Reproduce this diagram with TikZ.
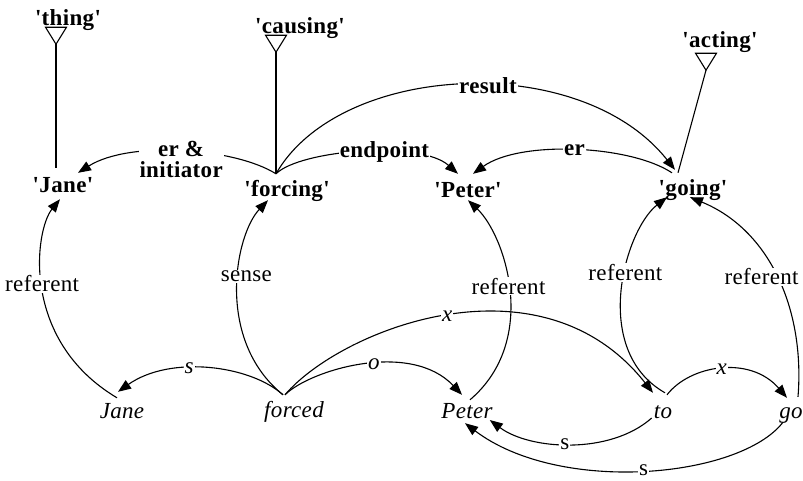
\documentclass[tikz,border=0pt]{standalone}
\usepackage{fontspec}
\setmainfont{Liberation Serif}[Ligatures=TeXOff, LetterSpace=1.5]
\usetikzlibrary{arrows.meta}
\newcommand\fsz{\fontsize{23}{20}\selectfont}
\tikzset{
  txt/.style={inner sep=0pt, text height=15pt, text depth=5pt},
  concept/.style={txt, font=\fsz\bfseries},
  word/.style={txt, font=\fsz\itshape},
  lab/.style={fill=white, inner sep=1pt, font=\fsz},
  blab/.style={lab, font=\fsz\bfseries},
  ilab/.style={lab, font=\fsz\itshape},
  rel/.style={line width=1.1pt, -{Triangle[length=13pt,width=10pt]}},
  isa/.style={line width=1.1pt},
  isatri/.style={line width=1.1pt, line join=miter}
}
\begin{document}
\begin{tikzpicture}[x=1pt,y=-1pt]
\useasboundingbox (0,0) rectangle (803,480);
% concept nodes
\node[concept] (thing) at (68,20) {'thing'};
\node[concept] (causing) at (300,28) {'causing'};
\node[concept] (acting) at (720,42) {'acting'};
\node[concept] (tJane) at (63,187) {'Jane'};
\node[concept] (tforcing) at (287,191) {'forcing'};
\node[concept] (tPeter) at (468,192) {'Peter'};
\node[concept] (tgoing) at (693,190) {'going'};
% word nodes
\node[word] (wJane) at (122,413) {Jane};
\node[word] (wforced) at (294,412) {forced};
\node[word] (wPeter) at (467,413) {Peter};
\node[word] (wto) at (663,413) {to};
\node[word] (wgo) at (791,413) {go};
% isa triangles (base centre under each supercategory)
\coordinate (thingT) at ([shift={(-12,-3)}]thing.south);
\coordinate (causingT) at ([shift={(-24,-3)}]causing.south);
\coordinate (actingT) at ([shift={(-14,1)}]acting.south);
\foreach \t in {thingT,causingT,actingT}{
  \draw[isatri] ([shift={(-10.5,0)}]\t) -- ([shift={(10.5,0)}]\t) -- ([shift={(0,17)}]\t) -- cycle;
}
% isa links
\draw[isa] ([shift={(-7,-9)}]tJane.north) -- ([shift={(0,17)}]thingT);
\draw[isa] ([shift={(-11,-7)}]tforcing.north) -- ([shift={(0,17)}]causingT);
\draw[isa] ([shift={(-15,-7)}]tgoing.north) -- ([shift={(0,17)}]actingT);
% relations among concepts
\draw[rel] ([shift={(-11,-7)}]tforcing.north) .. controls (235,148) and (130,140) .. ([shift={(15,-4)}]tJane.north)
  node[blab,pos=.5,yshift=-8pt,align=center,font=\fontsize{23}{21.5}\selectfont\bfseries] {er \&\\initiator};
\draw[rel] ([shift={(-11,-7)}]tforcing.north) .. controls (300,150) and (420,140) .. ([shift={(-10,-8)}]tPeter.north)
  node[blab,pos=.6] {endpoint};
\draw[rel] ([shift={(-11,-7)}]tforcing.north) .. controls (340,62) and (580,50) .. ([shift={(-18,-10)}]tgoing.north)
  node[blab,pos=.55] {result};
\draw[rel] ([shift={(-21,-7)}]tgoing.north) .. controls (630,145) and (520,140) .. ([shift={(5,-8)}]tPeter.north)
  node[blab,pos=.5] {er};
% referent / sense
\draw[rel] ([shift={(-5,-5)}]wJane.north) .. controls (20,340) and (35,230) .. ([shift={(-3,2)}]tJane.south)
  node[lab,pos=.52] {referent};
\draw[rel] ([shift={(-11,-7)}]wforced.north) .. controls (215,340) and (235,235) .. ([shift={(-19,-1)}]tforcing.south)
  node[lab,pos=.56,xshift=8pt] {sense};
\draw[rel] ([shift={(3,-3)}]wPeter.north) .. controls (540,340) and (505,235) .. ([shift={(0,-2)}]tPeter.south)
  node[lab,pos=.52] {referent};
\draw[rel] ([shift={(2,-10)}]wto.north) .. controls (590,350) and (625,230) .. ([shift={(-26,-3)}]tgoing.south)
  node[lab,pos=.58] {referent};
\draw[rel] ([shift={(7,-6)}]wgo.north) .. controls (805,310) and (770,230) .. ([shift={(-3,-3)}]tgoing.south)
  node[lab,pos=.5,xshift=-15pt] {referent};
% syntactic dependencies
\draw[rel] ([shift={(-11,-7)}]wforced.north) .. controls (250,365) and (170,355) .. ([shift={(-4,-11)}]wJane.north)
  node[ilab,pos=.6] {s};
\draw[rel] ([shift={(-9,-7)}]wforced.north) .. controls (310,370) and (410,340) .. ([shift={(-5,-8)}]wPeter.north)
  node[ilab,pos=.55] {o};
\draw[rel] ([shift={(-9,-7)}]wforced.north) .. controls (340,330) and (540,250) .. ([shift={(-10,-10)}]wto.north)
  node[ilab,pos=.5] {x};
\draw[rel] ([shift={(4,-8)}]wto.north) .. controls (690,365) and (750,355) .. ([shift={(-4,-5)}]wgo.north)
  node[ilab,pos=.5] {x};
\draw[rel] ([shift={(-2,5)}]wto.west) .. controls (610,455) and (530,450) .. ([shift={(-3,7)}]wPeter.east)
  node[lab,pos=.53] {s};
\draw[rel] ([shift={(-8,-1)}]wgo.south) .. controls (740,478) and (560,495) .. ([shift={(-2,0)}]wPeter.south)
  node[lab,pos=.5] {s};
\end{tikzpicture}
\end{document}
